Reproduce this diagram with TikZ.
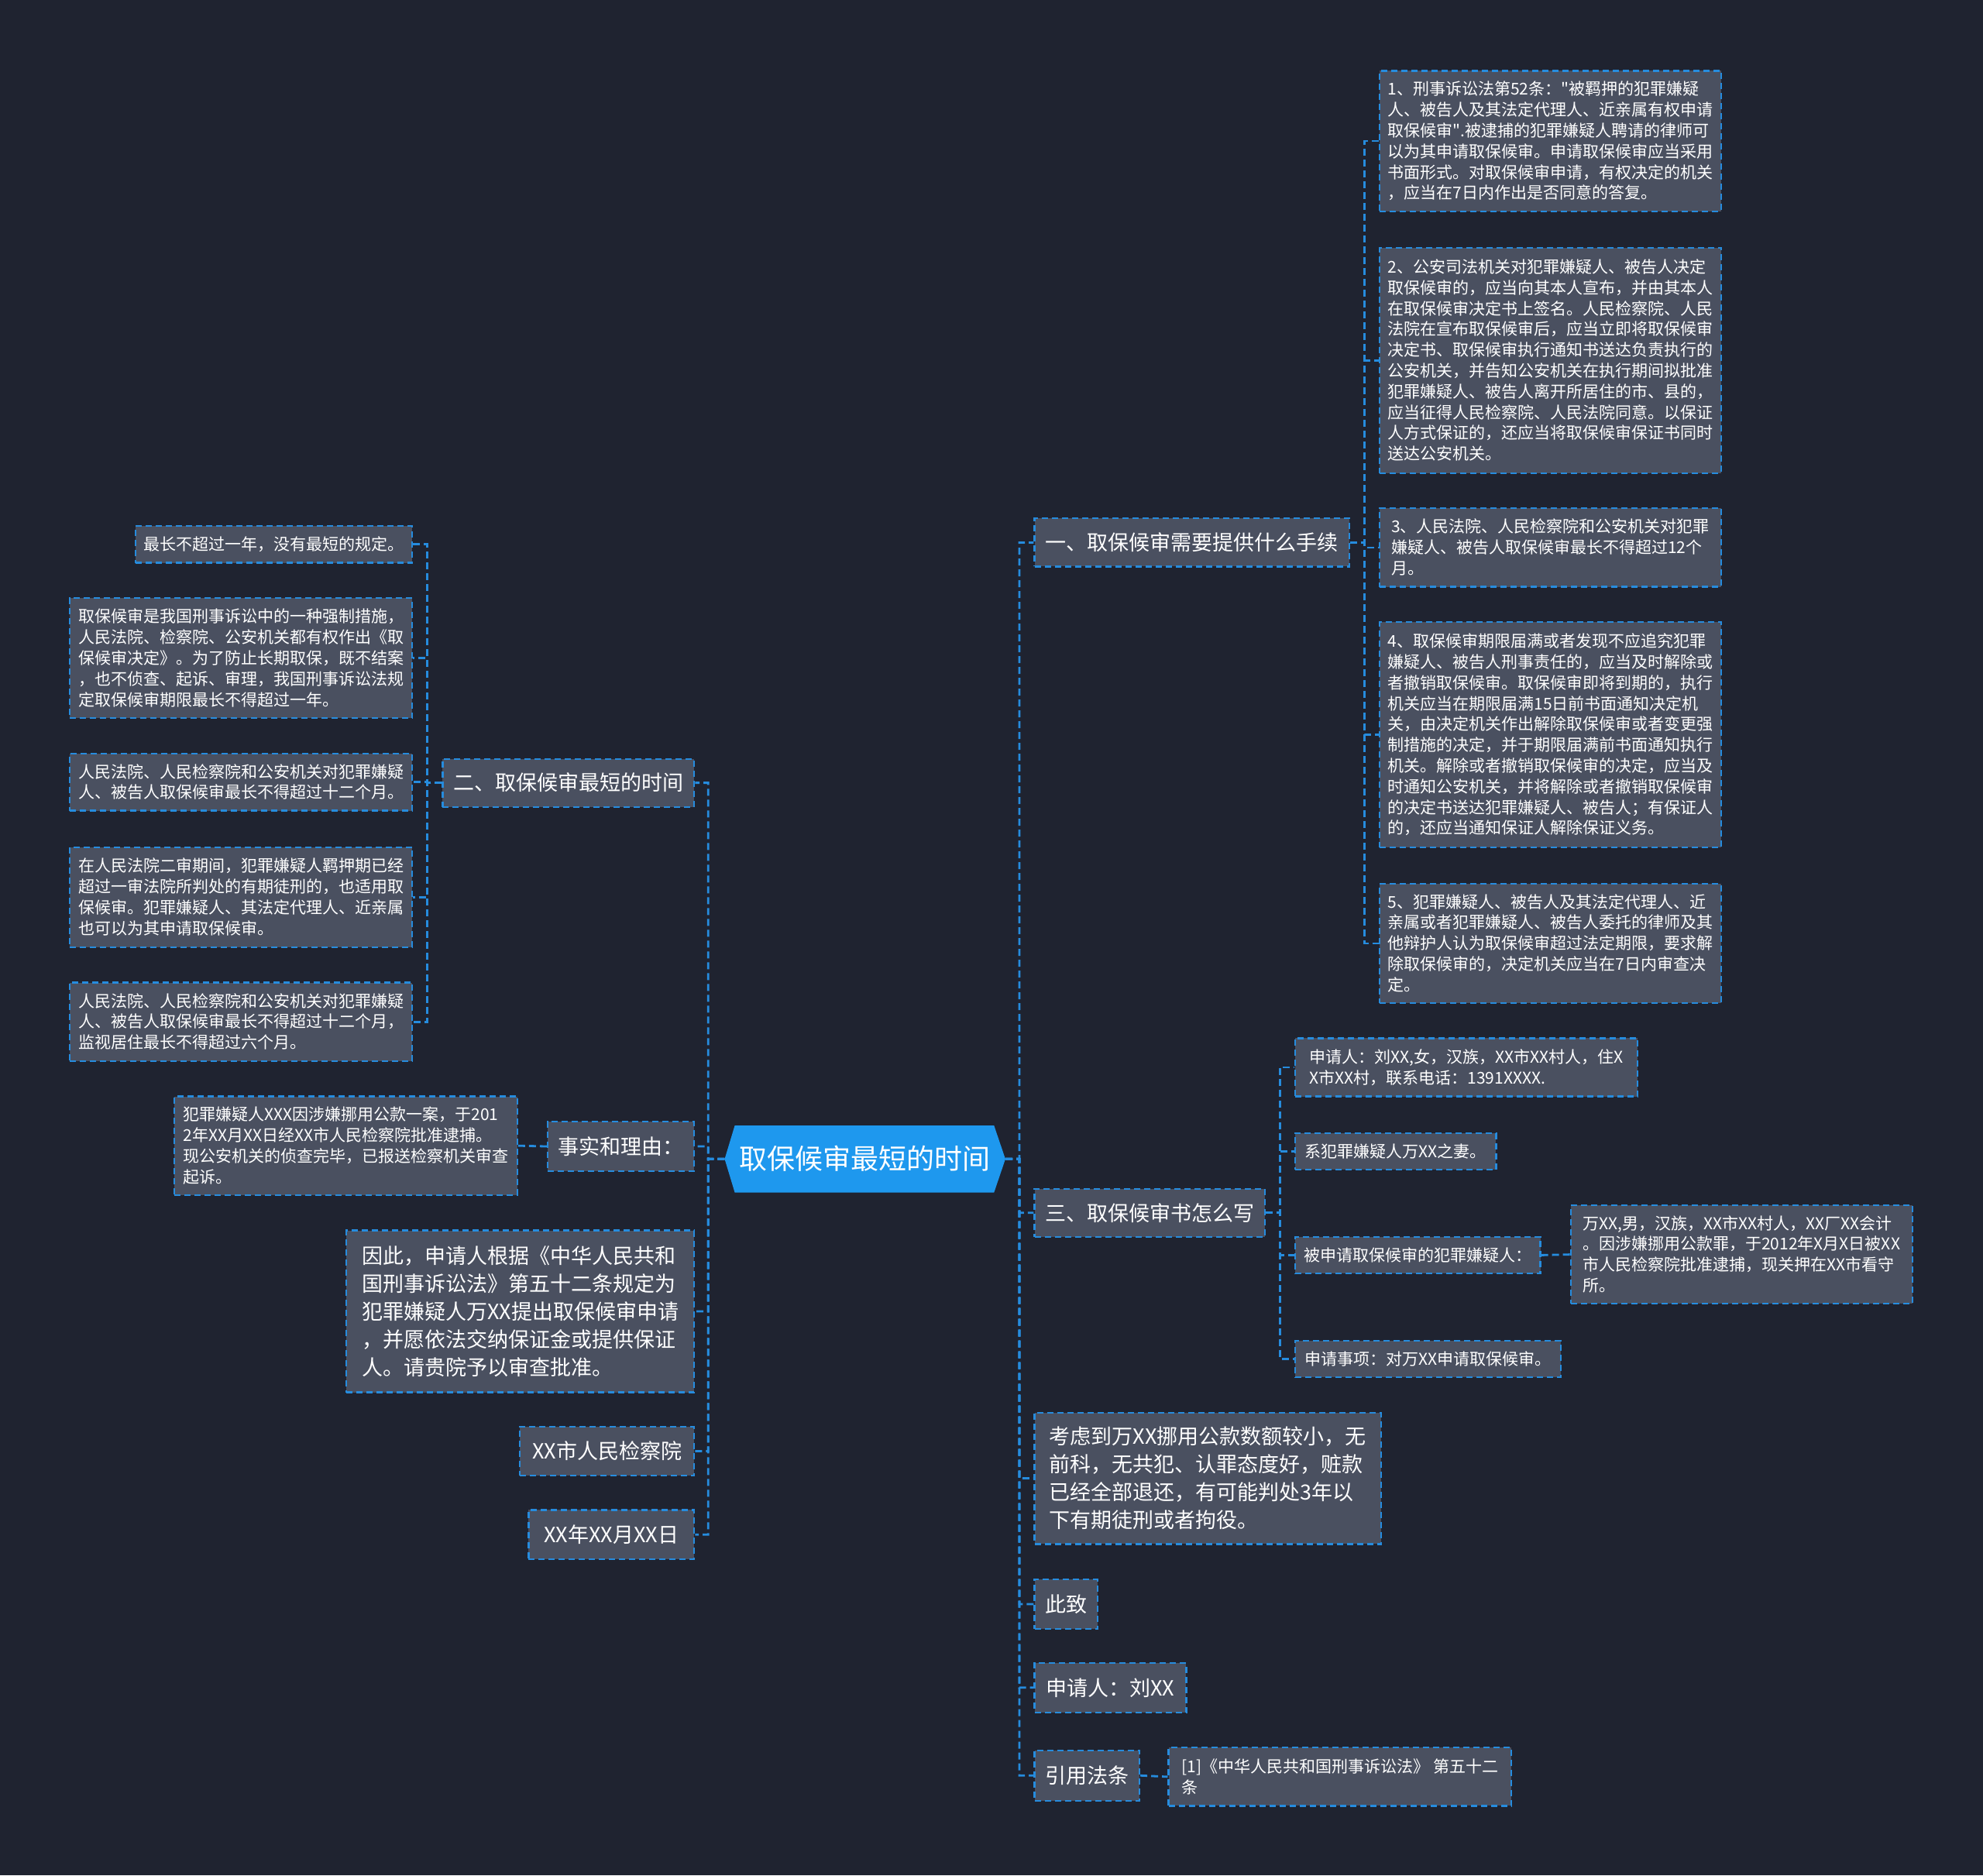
\documentclass[tikz,border=0pt]{standalone}
\usepackage{fontspec}
\usepackage{array}
\setmainfont{Noto Sans CJK SC}
\newfontfamily\plainq{Noto Sans CJK SC}
\usetikzlibrary{fit}
\definecolor{bgc}{RGB}{31,35,48}
\definecolor{boxc}{RGB}{74,80,96}
\definecolor{linec}{RGB}{38,140,222}
\definecolor{rootc}{RGB}{30,152,238}
\newcolumntype{L}{>{\setbox0\hbox\bgroup}l<{\egroup\ht0=0pt\dp0=0pt\box0}}
\newcommand\sq{{\plainq\char34}}
\tikzset{
  box/.style={draw=linec, fill=boxc, line width=2.2pt, dash pattern=on 8pt off 5pt, inner sep=0pt},
  sm/.style={box},
  md/.style={box},
  smt/.style={inner sep=0pt, text=white, yshift=-2.4pt, font=\fontsize{21}{26.8}\selectfont},
  mdt/.style={inner sep=0pt, text=white, yshift=-3.1pt, font=\fontsize{27}{36}\selectfont},
  roott/.style={inner sep=0pt, text=white, yshift=-4pt, font=\fontsize{36}{44}\selectfont},
  conn/.style={draw=linec, line width=2.8pt, dash pattern=on 9pt off 5pt},
}
\newcommand\bx[7]{%
  \node[#1, fit={(#3,#4) (#5,#6)}] (#2) {};
  \node[#1t] (#2t) at (#2.center) {\begin{tabular}{@{}L@{}}#7\end{tabular}};%
}
\begin{document}
\begin{tikzpicture}[x={(1.6327pt,0)}, y={(0,-1.6327pt)}]
\fill[bgc] (0,0) rectangle (1568,1483);
\useasboundingbox (0,0) rectangle (1568,1483);

% root
\fill[rootc] (573,916.5) -- (581,890) -- (786,890) -- (795,916.5) -- (786,943) -- (581,943) -- cycle;
\node[inner sep=0pt, fit={(573,890) (795,943)}] (root) {};
\node[roott] (roott) at (root.center) {\begin{tabular}{@{}L@{}}取保候审最短的时间\end{tabular}};

% right level 1
\bx{md}{r1}{818}{410}{1067}{448}{一、取保候审需要提供什么手续}
\bx{md}{r2}{818}{940}{1000}{978}{三、取保候审书怎么写}
\bx{md}{r3}{818}{1117}{1092}{1221}{考虑到万XX挪用公款数额较小，无\\前科，无共犯、认罪态度好，赃款\\已经全部退还，有可能判处3年以\\下有期徒刑或者拘役。}
\bx{md}{r4}{818}{1249}{868}{1288}{此致}
\bx{md}{r5}{818}{1315}{938}{1354}{申请人：刘XX}
\bx{md}{r6}{818}{1384}{901}{1424}{引用法条}

% right level 2 (一)
\bx{sm}{a1}{1091}{56}{1361}{167}{1、刑事诉讼法第52条：\sq 被羁押的犯罪嫌疑\\人、被告人及其法定代理人、近亲属有权申请\\取保候审\sq.被逮捕的犯罪嫌疑人聘请的律师可\\以为其申请取保候审。申请取保候审应当采用\\书面形式。对取保候审申请，有权决定的机关\\，应当在7日内作出是否同意的答复。}
\bx{sm}{a2}{1091}{196}{1361}{374}{2、公安司法机关对犯罪嫌疑人、被告人决定\\取保候审的，应当向其本人宣布，并由其本人\\在取保候审决定书上签名。人民检察院、人民\\法院在宣布取保候审后，应当立即将取保候审\\决定书、取保候审执行通知书送达负责执行的\\公安机关，并告知公安机关在执行期间拟批准\\犯罪嫌疑人、被告人离开所居住的市、县的，\\应当征得人民检察院、人民法院同意。以保证\\人方式保证的，还应当将取保候审保证书同时\\送达公安机关。}
\bx{sm}{a3}{1091}{402}{1361}{464}{3、人民法院、人民检察院和公安机关对犯罪\\嫌疑人、被告人取保候审最长不得超过12个\\月。}
\bx{sm}{a4}{1091}{492}{1361}{670}{4、取保候审期限届满或者发现不应追究犯罪\\嫌疑人、被告人刑事责任的，应当及时解除或\\者撤销取保候审。取保候审即将到期的，执行\\机关应当在期限届满15日前书面通知决定机\\关，由决定机关作出解除取保候审或者变更强\\制措施的决定，并于期限届满前书面通知执行\\机关。解除或者撤销取保候审的决定，应当及\\时通知公安机关，并将解除或者撤销取保候审\\的决定书送达犯罪嫌疑人、被告人；有保证人\\的，还应当通知保证人解除保证义务。}
\bx{sm}{a5}{1091}{699}{1361}{793}{5、犯罪嫌疑人、被告人及其法定代理人、近\\亲属或者犯罪嫌疑人、被告人委托的律师及其\\他辩护人认为取保候审超过法定期限，要求解\\除取保候审的，决定机关应当在7日内审查决\\定。}

% right level 2 (三)
\bx{sm}{b1}{1024}{821}{1295}{867}{申请人：刘XX,女，汉族，XX市XX村人，住X\\X市XX村，联系电话：1391XXXX.}
\bx{sm}{b2}{1024}{896}{1183}{925}{系犯罪嫌疑人万XX之妻。}
\bx{sm}{b3}{1024}{978}{1218}{1007}{被申请取保候审的犯罪嫌疑人：}
\bx{sm}{b4}{1024}{1060}{1234}{1089}{申请事项：对万XX申请取保候审。}
\bx{sm}{b5}{1242}{953}{1512}{1031}{万XX,男，汉族，XX市XX村人，XX厂XX会计\\。因涉嫌挪用公款罪，于2012年X月X日被XX\\市人民检察院批准逮捕，现关押在XX市看守\\所。}
\bx{sm}{c1}{924}{1382}{1195}{1428}{[1]《中华人民共和国刑事诉讼法》 第五十二\\条}

% left level 1
\bx{md}{l1}{350}{600}{549}{638}{二、取保候审最短的时间}
\bx{md}{l2}{433}{887}{549}{926}{事实和理由：}
\bx{md}{l3}{274}{973}{549}{1101}{因此，申请人根据《中华人民共和\\国刑事诉讼法》第五十二条规定为\\犯罪嫌疑人万XX提出取保候审申请\\，并愿依法交纳保证金或提供保证\\人。请贵院予以审查批准。}
\bx{md}{l4}{411}{1128}{549}{1167}{XX市人民检察院}
\bx{md}{l5}{418}{1194}{549}{1233}{XX年XX月XX日}

% left level 2
\bx{sm}{m1}{107}{416}{326}{445}{最长不超过一年，没有最短的规定。}
\bx{sm}{m2}{55}{473}{326}{568}{取保候审是我国刑事诉讼中的一种强制措施，\\人民法院、检察院、公安机关都有权作出《取\\保候审决定》。为了防止长期取保，既不结案\\，也不侦查、起诉、审理，我国刑事诉讼法规\\定取保候审期限最长不得超过一年。}
\bx{sm}{m3}{55}{596}{326}{641}{人民法院、人民检察院和公安机关对犯罪嫌疑\\人、被告人取保候审最长不得超过十二个月。}
\bx{sm}{m4}{55}{670}{326}{749}{在人民法院二审期间，犯罪嫌疑人羁押期已经\\超过一审法院所判处的有期徒刑的，也适用取\\保候审。犯罪嫌疑人、其法定代理人、近亲属\\也可以为其申请取保候审。}
\bx{sm}{m5}{55}{777}{326}{839}{人民法院、人民检察院和公安机关对犯罪嫌疑\\人、被告人取保候审最长不得超过十二个月，\\监视居住最长不得超过六个月。}
\bx{sm}{n1}{138}{867}{409}{945}{犯罪嫌疑人XXX因涉嫌挪用公款一案，于201\\2年XX月XX日经XX市人民检察院批准逮捕。\\现公安机关的侦查完毕，已报送检察机关审查\\起诉。}

% connectors
\foreach \c in {r1,r2,r3,r4,r5,r6}
  \draw[conn] (root.east) -- (806,916.5) |- (\c.west);
\foreach \c in {l1,l2,l3,l4,l5}
  \draw[conn] (root.west) -- (560,916.5) |- (\c.east);
\foreach \c in {a1,a2,a3,a4,a5}
  \draw[conn] (r1.east) -- (1079,429) |- (\c.west);
\foreach \c in {b1,b2,b3,b4}
  \draw[conn] (r2.east) -- (1012,959) |- (\c.west);
\draw[conn] (b3.east) -- (b5.west);
\draw[conn] (r6.east) -- (c1.west);
\foreach \c in {m1,m2,m3,m4,m5}
  \draw[conn] (l1.west) -- (338,619) |- (\c.east);
\draw[conn] (l2.west) -- (n1.east);
\end{tikzpicture}
\end{document}
